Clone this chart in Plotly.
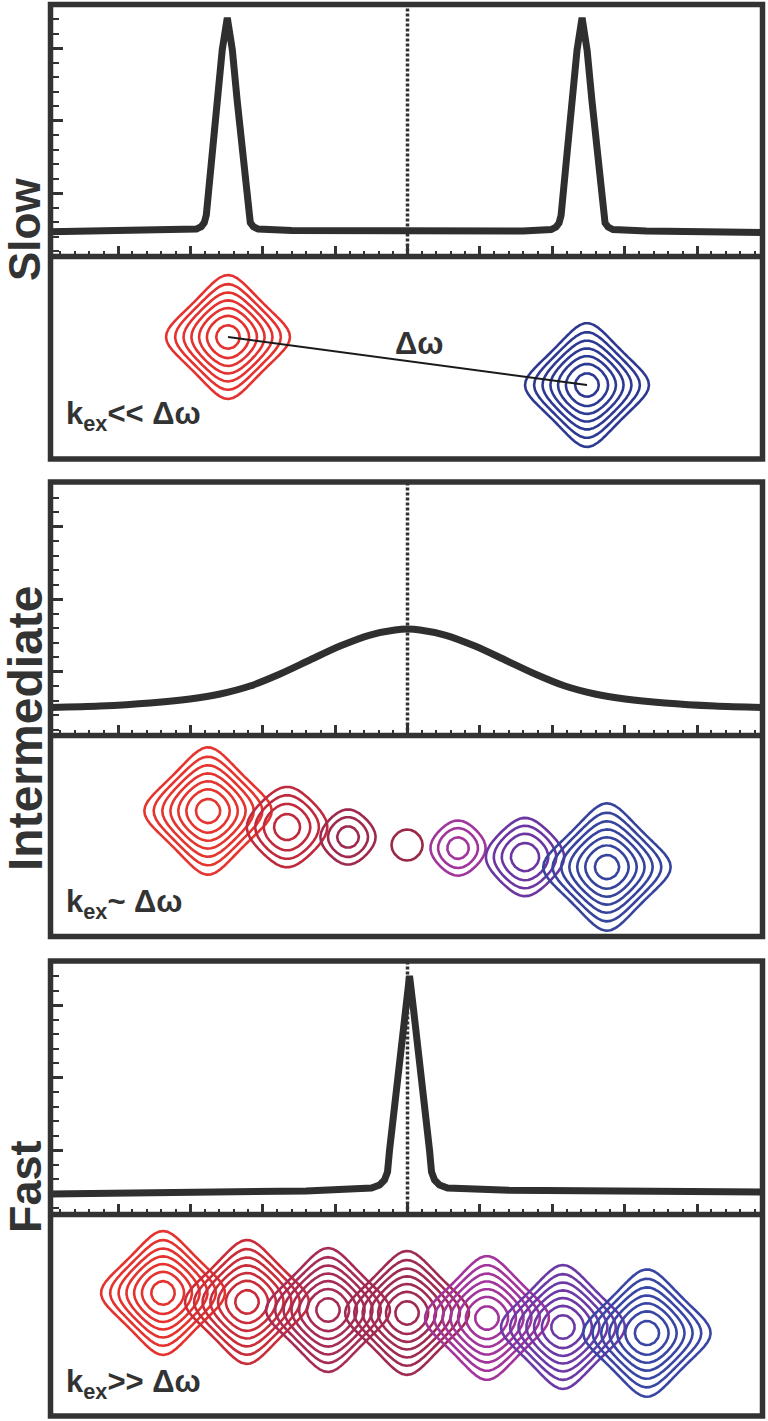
import numpy as np
import plotly.graph_objects as go

# ---------------- data ----------------
# 1D spectra (frequency units, intensity units)
slow_x = [-24.7, -19.0, -16.0, -14.59, -14.25, -14.04, -13.9, -13.8, -13.13, -12.8, -12.45,
          -12.1, -11.77, -11.1, -11.0, -10.86, -10.65, -10.31, -8.0, 0.0, 8.0,
          9.92, 10.26, 10.47, 10.61, 10.71, 11.38, 11.71, 12.06, 12.41, 12.74,
          13.41, 13.51, 13.65, 13.86, 14.2, 16.5, 20.0, 24.6]
slow_y = [-2.66, -2.62, -2.57, -2.47, -2.30, -2.02, -1.50, -0.46, 6.43, 9.88, 12.1,
          9.88, 6.43, -0.46, -1.50, -2.02, -2.30, -2.47, -2.57, -2.62, -2.60,
          -2.50, -2.33, -2.05, -1.52, -0.48, 6.41, 9.86, 12.1, 9.86, 6.41,
          -0.48, -1.52, -2.05, -2.33, -2.50, -2.60, -2.66, -2.70]

inter_x = [-24.7, -21.24, -17.79, -15.03, -12.95, -10.88, -8.81, -6.74, -4.66, -2.59, -0.86,
           0.03, 0.86, 2.59, 4.66, 6.74, 8.81, 10.88, 12.95, 15.03, 17.79, 21.24, 24.5]
inter_y = [-2.47, -2.37, -2.16, -1.88, -1.54, -0.99, -0.16, 0.81, 1.77, 2.53, 2.88,
           2.94, 2.88, 2.53, 1.77, 0.81, -0.16, -0.99, -1.54, -1.88, -2.16, -2.37, -2.47]

fast_x = [-24.7, -15.0, -7.0, -2.49, -1.93, -1.59, -1.38, -1.24, -0.48, -0.14, 0.14,
          0.42, 0.76, 1.52, 1.66, 1.87, 2.21, 2.77, 7.0, 15.0, 24.5]
fast_y = [-3.03, -2.95, -2.83, -2.62, -2.41, -2.07, -1.52, 0.0, 6.9, 9.66, 12.0,
          9.66, 6.9, 0.0, -1.52, -2.07, -2.41, -2.62, -2.78, -2.85, -2.90]

# 2D cross peaks: position, amplitude, linewidth, colour
slow_peak_x = [-12.40, 12.40]
slow_peak_y = [8.43, 5.11]
slow_peak_amp = [1.0, 1.0]
slow_peak_width = [2.14, 2.14]
slow_peak_color = ["#e3322f", "#2e3a92"]

inter_peak_x = [-13.78, -8.32, -4.11, -0.03, 3.49, 8.12, 13.78]
inter_peak_y = [8.67, 7.56, 6.87, 6.32, 6.11, 5.49, 4.80]
inter_peak_amp = [1.0, 0.48, 0.37, 0.24, 0.37, 0.50, 1.0]
inter_peak_width = [2.2, 2.35, 2.07, 2.42, 2.07, 2.21, 2.2]
inter_peak_color = ["#e5352f", "#bf2a3c", "#9e2a4e", "#982a48", "#a0359c", "#6b36a2", "#36449c"]

fast_peak_x = [-16.89, -11.09, -5.49, -0.03, 5.49, 10.74, 16.54]
fast_peak_y = [8.50, 7.88, 7.32, 7.12, 6.77, 6.15, 5.73]
fast_peak_amp = [1.0, 1.0, 1.0, 1.0, 1.0, 1.0, 1.0]
fast_peak_width = [2.14, 2.14, 2.14, 2.14, 2.14, 2.14, 2.2]
fast_peak_color = ["#e4332e", "#c92d3a", "#a62c55", "#9f2b50", "#a2349b", "#6c3aa6", "#3a46a3"]

contour_base = 0.2
contour_ratio = 1.278
n_levels = 7

center_ref = 0.0

panel_names = ["Slow", "Intermediate", "Fast"]
regime_labels = ["k<sub>ex</sub>&lt;&lt; Δω", "k<sub>ex</sub>~ Δω", "k<sub>ex</sub>&gt;&gt; Δω"]
delta_label = "Δω"

# ---------------- layout geometry (pixels) ----------------
W, H = 768, 1421
L_PX, R_PX = 50.5, 762.5
X0_PX, XS = 407.5, 14.475       # px of x=0, px per unit
YS = 14.5                        # px per unit for 1D intensity
panels = [  # (top, divider, bottom, px of intensity 0)
    (4.5, 256.5, 459.0, 193.3),
    (482.0, 735.5, 936.5, 671.7),
    (961.0, 1214.5, 1416.0, 1150.0),
]
label_center = [230, 729, 1187]
label_size = [44, 48, 45]
kex_center = [416, 904, 1384]
INK = "#333333"


def px_x(p):
    return p / W


def px_y(p):
    return 1 - p / H


x_range = [(L_PX - X0_PX) / XS, (R_PX - X0_PX) / XS]

fig = go.Figure()
layout = dict(
    width=W, height=H, margin=dict(l=0, r=0, t=0, b=0),
    paper_bgcolor="white", plot_bgcolor="white", showlegend=False,
    font=dict(family="Liberation Sans, Arial, sans-serif", color=INK),
)
shapes = []
annotations = []

spectra = [(slow_x, slow_y, "linear"), (inter_x, inter_y, "spline"), (fast_x, fast_y, "linear")]
peaks = [
    (slow_peak_x, slow_peak_y, slow_peak_amp, slow_peak_width, slow_peak_color),
    (inter_peak_x, inter_peak_y, inter_peak_amp, inter_peak_width, inter_peak_color),
    (fast_peak_x, fast_peak_y, fast_peak_amp, fast_peak_width, fast_peak_color),
]

lev_start = np.log10(contour_base)
lev_size = np.log10(contour_ratio)
lev_end = lev_start + (n_levels - 1) * lev_size

for i, (top, div, bot, zero) in enumerate(panels):
    n1 = 2 * i + 1
    n2 = 2 * i + 2
    xa1 = "xaxis" if n1 == 1 else f"xaxis{n1}"
    ya1 = "yaxis" if n1 == 1 else f"yaxis{n1}"
    xa2, ya2 = f"xaxis{n2}", f"yaxis{n2}"
    xr1 = "x" if n1 == 1 else f"x{n1}"
    yr1 = "y" if n1 == 1 else f"y{n1}"
    xr2, yr2 = f"x{n2}", f"y{n2}"

    xdom = [px_x(L_PX), px_x(R_PX)]
    layout[xa1] = dict(domain=xdom, range=x_range, anchor=yr1, showgrid=False, zeroline=False,
                       showline=False, showticklabels=False, ticks="inside", tickmode="linear",
                       tick0=0, dtick=5, ticklen=11, tickwidth=2.5, tickcolor=INK,
                       minor=dict(ticks="inside", tickmode="linear", tick0=0, dtick=1, ticklen=6,
                                  tickwidth=2.2, tickcolor=INK, showgrid=False))
    layout[ya1] = dict(domain=[px_y(div), px_y(top)],
                       range=[(zero - div) / YS, (zero - top) / YS], anchor=xr1,
                       showgrid=False, zeroline=False, showline=False, showticklabels=False,
                       ticks="inside", tickmode="linear", tick0=0, dtick=5, ticklen=12,
                       tickwidth=2.5, tickcolor=INK,
                       minor=dict(ticks="inside", tickmode="linear", tick0=0, dtick=1, ticklen=8,
                                  tickwidth=2.2, tickcolor=INK, showgrid=False))
    h2 = (bot - div) / XS
    layout[xa2] = dict(domain=xdom, range=x_range, anchor=yr2, showgrid=False, zeroline=False,
                       showline=False, showticklabels=False, ticks="")
    layout[ya2] = dict(domain=[px_y(bot), px_y(div)], range=[0, h2], anchor=xr2,
                       showgrid=False, zeroline=False, showline=False, showticklabels=False, ticks="")

    # reference dotted line at the centre frequency
    shapes.append(dict(type="line", xref=xr1, yref=f"{yr1} domain", x0=center_ref, x1=center_ref,
                       y0=0, y1=1, line=dict(color=INK, width=3.5, dash="3px,2px"), layer="below"))

    # 1D spectrum
    sx, sy, shp = spectra[i]
    fig.add_trace(go.Scatter(x=sx, y=sy, mode="lines", xaxis=xr1, yaxis=yr1,
                             line=dict(color="#2f2f2f", width=7, shape=shp, smoothing=0.8),
                             hoverinfo="skip"))

    # 2D contours
    gx = np.arange(x_range[0], x_range[1] + 0.3, 0.3)
    gy = np.arange(0, h2 + 0.3, 0.3)
    GX, GY = np.meshgrid(gx, gy)
    pxs, pys, pas, pws, pcs = peaks[i]
    for cx, cy, a, w, c in zip(pxs, pys, pas, pws, pcs):
        u = (GX - cx) / w
        v = (GY - cy) / w
        z = np.log10(a / ((1 + u ** 2) * (1 + v ** 2)))
        fig.add_trace(go.Contour(x=gx, y=gy, z=z, xaxis=xr2, yaxis=yr2, autocontour=False,
                                 contours=dict(start=lev_start, end=lev_end, size=lev_size,
                                               coloring="none", showlabels=False),
                                 line=dict(color=c, width=2.6, smoothing=0),
                                 showscale=False, hoverinfo="skip"))

    if i == 0:
        fig.add_trace(go.Scatter(x=slow_peak_x, y=slow_peak_y, mode="lines", xaxis=xr2, yaxis=yr2,
                                 line=dict(color="#1a1a1a", width=2), hoverinfo="skip"))
        annotations.append(dict(text=f"<b>{delta_label}</b>", xref=xr2, yref=yr2,
                                x=0.8, y=8.0, showarrow=False,
                                font=dict(size=31, color=INK)))

    # frames
    shapes.append(dict(type="rect", xref="paper", yref="paper", x0=px_x(L_PX), x1=px_x(R_PX),
                       y0=px_y(bot), y1=px_y(top), line=dict(color=INK, width=5.5), layer="above"))
    shapes.append(dict(type="line", xref="paper", yref="paper", x0=px_x(L_PX), x1=px_x(R_PX),
                       y0=px_y(div), y1=px_y(div), line=dict(color=INK, width=5.5), layer="above"))

    annotations.append(dict(text=f"<b>{panel_names[i]}</b>", xref="paper", yref="paper",
                            x=px_x(25), y=px_y(label_center[i]), textangle=-90, showarrow=False,
                            xanchor="center", yanchor="middle",
                            font=dict(size=label_size[i], color=INK)))
    annotations.append(dict(text=f"<b>{regime_labels[i]}</b>", xref="paper", yref="paper",
                            x=px_x(64), y=px_y(kex_center[i]), showarrow=False,
                            xanchor="left", yanchor="middle",
                            font=dict(size=31, color=INK)))

layout["shapes"] = shapes
layout["annotations"] = annotations
fig.update_layout(**layout)
fig.write_html("out.html", config={"displayModeBar": False},
               post_script="document.body.style.margin='0';document.body.style.overflow='hidden';")
